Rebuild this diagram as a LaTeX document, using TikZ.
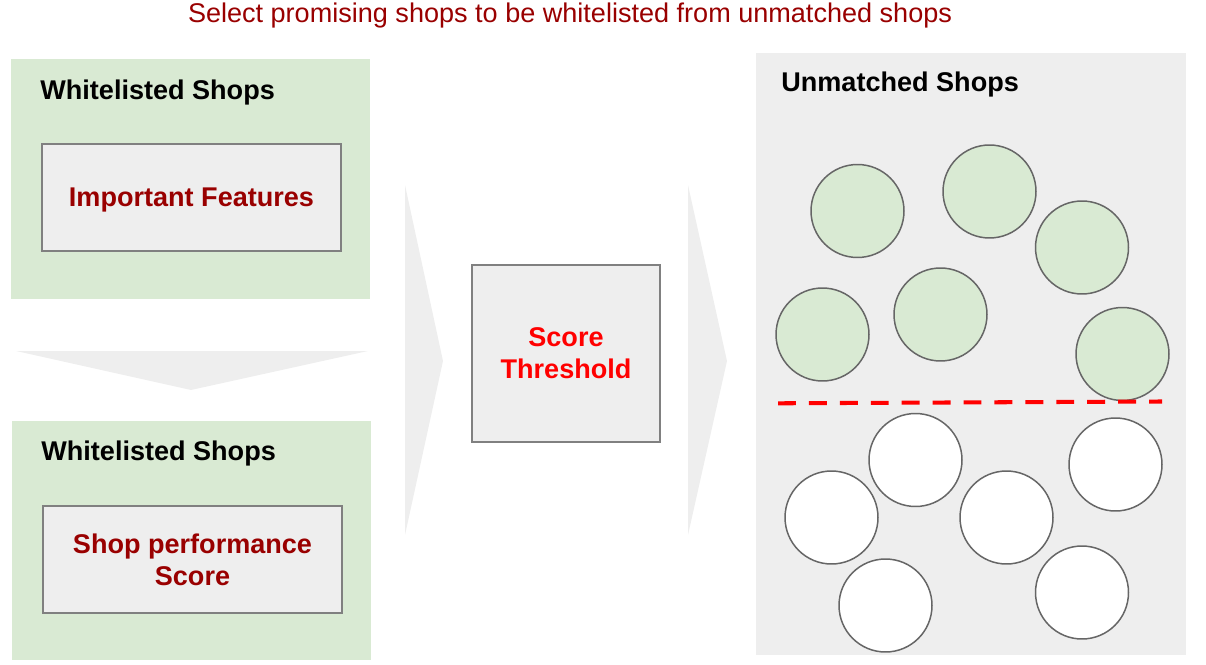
\documentclass[tikz,border=0pt]{standalone}
\usepackage{fontspec}
\setmainfont{Liberation Sans}
\definecolor{Leaf}{HTML}{D9EAD3}
\definecolor{Fog}{HTML}{EEEEEE}
\definecolor{Rim}{HTML}{808080}
\definecolor{Ring}{HTML}{666666}
\definecolor{Wine}{HTML}{990000}
\definecolor{Alarm}{HTML}{FF0000}
\tikzset{
  panel/.style={fill=#1, inner sep=0pt},
  featbox/.style={fill=Fog, draw=Rim, line width=1.1pt, inner sep=0pt, align=center, font=\fontsize{15.4}{18.2}\selectfont\bfseries},
  heading/.style={anchor=base west, inner sep=0pt, font=\fontsize{15.4}{18.2}\selectfont\bfseries},
  shop/.style={circle, draw=Ring, line width=0.85pt, fill=#1, minimum size=1.86cm, inner sep=0pt},
  chevron/.style={fill=Fog, draw=none}
}
\begin{document}
\begin{tikzpicture}[x=0.02cm, y={(0cm,-0.02cm)}]
    \useasboundingbox (0,0) rectangle (1206,665);
    \node[anchor=base, inner sep=0pt, text=Wine, font=\fontsize{15.4}{18.2}\selectfont] (title) at (570,23) {Select promising shops to be whitelisted from unmatched shops};
    % left column
    \node[panel=Leaf, minimum width=7.18cm, minimum height=4.8cm] (white1) at (190.5,179) {};
    \node[heading] (white1lbl) at (40,99.5) {Whitelisted Shops};
    \node[featbox, text=Wine, text depth=0pt, minimum width=5.98cm, minimum height=2.14cm] (feat) at (191.5,197.5) {Important Features};
    \node[panel=Leaf, minimum width=7.18cm, minimum height=4.78cm] (white2) at (191.5,540.5) {};
    \node[heading] (white2lbl) at (41,460) {Whitelisted Shops};
    \node[featbox, text=Wine, minimum width=5.98cm, minimum height=2.14cm] (perf) at (192.5,559.5) {Shop performance\\Score};
    \fill[chevron] (16,351) -- (368,351) -- (191,390) -- cycle;
    % middle
    \fill[chevron] (405,185) -- (443,361) -- (405,535) -- cycle;
    \node[featbox, text=Alarm, minimum width=3.76cm, minimum height=3.54cm] (thresh) at (566,353.5) {Score\\Threshold};
    \fill[chevron] (688,185) -- (727,361) -- (688,535) -- cycle;
    % unmatched shops
    \node[panel=Fog, minimum width=8.6cm, minimum height=12.04cm] (pool) at (971,354) {};
    \node[heading] (poollbl) at (781,92) {Unmatched Shops};
    \node[shop=Leaf] (g1) at (857.5,211) {};
    \node[shop=Leaf] (g2) at (989.5,191.5) {};
    \node[shop=Leaf] (g3) at (1082,247.5) {};
    \node[shop=Leaf] (g4) at (822.5,334.5) {};
    \node[shop=Leaf] (g5) at (940.5,314.5) {};
    \node[shop=Leaf] (g6) at (1122.5,354) {};
    \node[shop=white] (w1) at (915.5,460) {};
    \node[shop=white] (w2) at (1115.5,464.5) {};
    \node[shop=white] (w3) at (831.5,517.5) {};
    \node[shop=white] (w4) at (1006.5,517.5) {};
    \node[shop=white] (w5) at (885.5,605.5) {};
    \node[shop=white] (w6) at (1082,592.5) {};
    \coordinate (cutL) at (778,403.3);
    \coordinate (cutR) at (1162,401.5);
    \draw[Alarm, line width=2.3pt, dash pattern=on 10.2pt off 7.4pt] (cutL) -- (cutR);
\end{tikzpicture}
\end{document}
